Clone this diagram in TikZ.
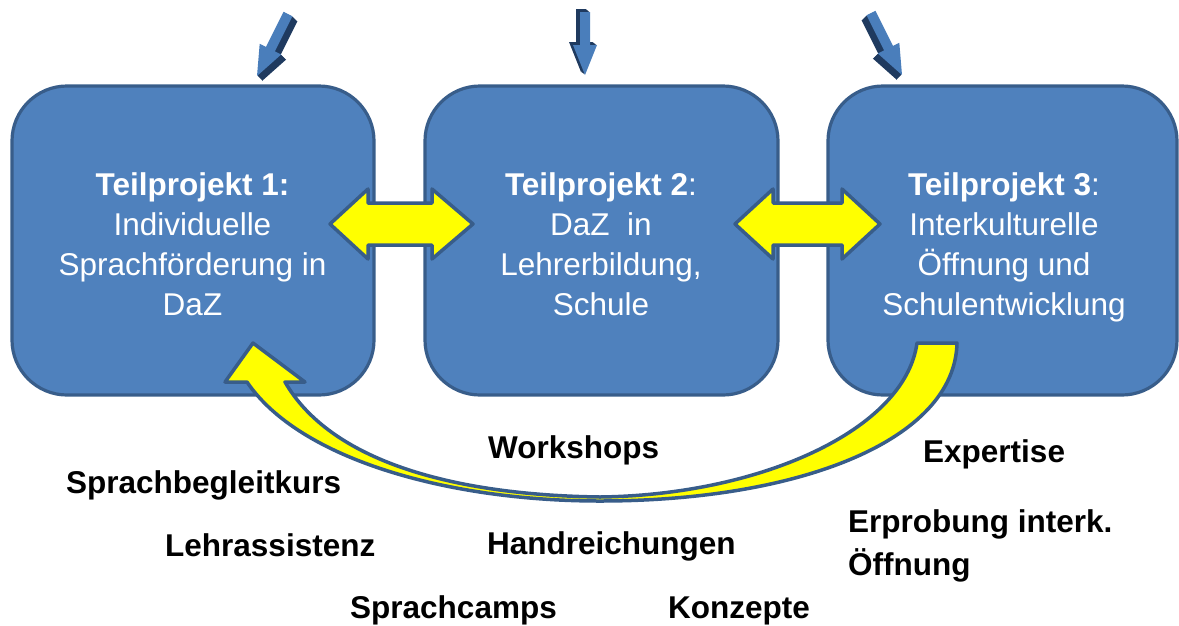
\documentclass[tikz,border=0pt]{standalone}
\usepackage{fontspec}
\setmainfont{Liberation Sans}
\definecolor{boxfill}{HTML}{4F81BD}
\definecolor{boxline}{HTML}{385D8A}
\definecolor{arrowlight}{HTML}{4A7EBB}
\definecolor{arrowdark}{HTML}{1F3A5F}
\definecolor{yel}{HTML}{FFFF00}
\tikzset{
  projbox/.style={draw=boxline, fill=boxfill, line width=3.2pt, rounded corners=55pt, inner sep=0pt},
  boxtext/.style={text=white, align=center, inner sep=0pt, font=\fontsize{31.5}{40}\selectfont},
  yelarrow/.style={draw=boxline, fill=yel, line width=3.5pt, line join=round},
  label/.style={inner sep=0pt, font=\fontsize{31.5}{43}\selectfont\bfseries, anchor=base west},
  darkpart/.style={fill=arrowdark},
  lightpart/.style={fill=arrowlight}
}
\begin{document}
\begin{tikzpicture}[x=1pt,y=-1pt]
\useasboundingbox (0,0) rectangle (1179,625);
% boxes
\node[projbox, minimum width=362pt, minimum height=309pt] (b1) at (193,240.5) {};
\node[projbox, minimum width=353pt, minimum height=309pt] (b2) at (601.5,240.5) {};
\node[projbox, minimum width=349pt, minimum height=309pt] (b3) at (1002.5,240.5) {};
% box texts
\node[boxtext] (t1) at (192.5,247) {\strut\textbf{Teilprojekt 1:}\\Individuelle\\Sprachförderung in\\DaZ\strut};
\node[boxtext] (t2) at (601,247) {\strut\textbf{Teilprojekt 2}:\\DaZ\ \ in\\Lehrerbildung,\\Schule\strut};
\node[boxtext] (t3) at (1004,247) {\strut\textbf{Teilprojekt 3}:\\Interkulturelle\\Öffnung und\\Schulentwicklung\strut};
% curved arrow from box 3 back to box 1
\draw[yelarrow] (253,343) -- (305,382) -- (285,382)
  .. controls (330,460) and (450,495) .. (600,497)
  .. controls (760,495) and (905,430) .. (917,343)
  -- (957,343)
  .. controls (955,440) and (800,501) .. (600,501)
  .. controls (450,501) and (300,460) .. (247,382)
  -- (225,382) -- cycle;
% double arrows between boxes
\draw[yelarrow] (330,224) -- (368,189) -- (368,203) -- (432,203) -- (432,189) -- (473,224)
  -- (432,259) -- (432,245) -- (368,245) -- (368,259) -- cycle;
\draw[yelarrow] (735,224) -- (773,189) -- (773,203) -- (842,203) -- (842,189) -- (880,224)
  -- (842,259) -- (842,245) -- (773,245) -- (773,259) -- cycle;
% top arrows (3D)
\foreach \s in {1,0.8,0.6,0.4,0.2}{
  \fill[darkpart, shift={(5*\s,5*\s)}] (292.47,16.24) -- (274.89,51.41) -- (281.15,54.54) -- (257,76)
    -- (259.69,43.80) -- (265.95,46.93) -- (283.53,11.76) -- cycle;
  \fill[darkpart, shift={(-4*\s,-3*\s)}] (590,12) -- (590,45) -- (597,45) -- (585,75)
    -- (573,45) -- (580,45) -- (580,12) -- cycle;
  \fill[darkpart, shift={(-5*\s,5*\s)}] (875.47,10.76) -- (893.05,45.93) -- (899.31,42.80) -- (902,75)
    -- (877.85,53.54) -- (884.11,50.41) -- (866.53,15.24) -- cycle;
}
\fill[lightpart] (292.47,16.24) -- (274.89,51.41) -- (281.15,54.54) -- (257,76)
    -- (259.69,43.80) -- (265.95,46.93) -- (283.53,11.76) -- cycle;
\fill[lightpart] (590,12) -- (590,45) -- (597,45) -- (585,75)
    -- (573,45) -- (580,45) -- (580,12) -- cycle;
\fill[lightpart] (875.47,10.76) -- (893.05,45.93) -- (899.31,42.80) -- (902,75)
    -- (877.85,53.54) -- (884.11,50.41) -- (866.53,15.24) -- cycle;
% labels
\node[label] (l1) at (488,458) {Workshops};
\node[label] (l2) at (923,462) {Expertise};
\node[label] (l3) at (66,493) {Sprachbegleitkurs};
\node[label] (l4) at (165,556) {Lehrassistenz};
\node[label] (l5) at (487,554) {Handreichungen};
\node[label, anchor=west, align=left] (l6) at (848,545) {\strut Erprobung interk.\\Öffnung\strut};
\node[label] (l7) at (350,618) {Sprachcamps};
\node[label] (l8) at (668,618) {Konzepte};
\end{tikzpicture}
\end{document}
